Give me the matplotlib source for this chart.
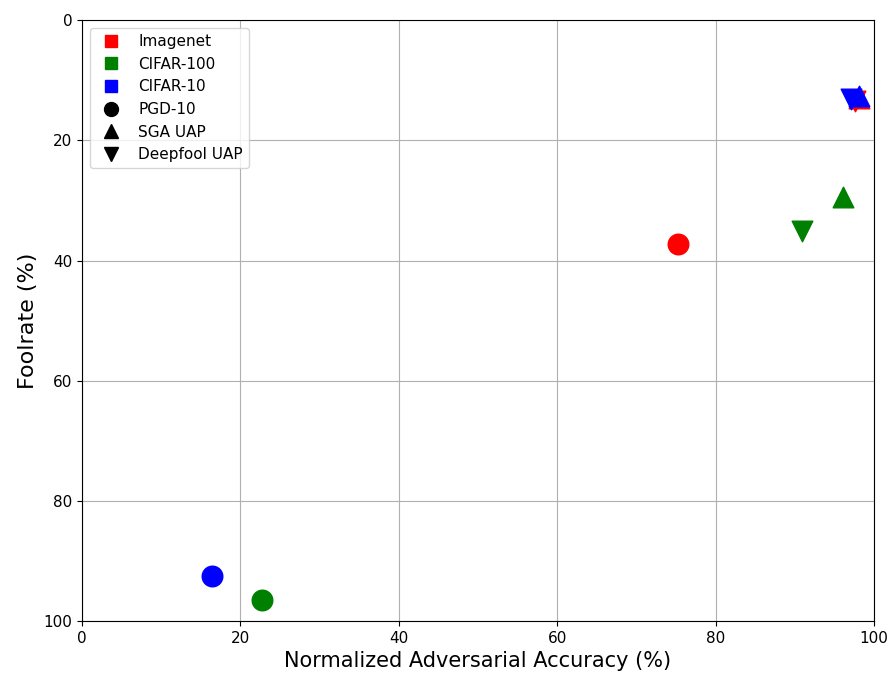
import matplotlib.pyplot as plt
from matplotlib.lines import Line2D

datasets = ['Imagenet', 'CIFAR-100', 'CIFAR-10']
colors = ['red', 'green', 'blue']
attacks = ['PGD-10', 'SGA UAP', 'Deepfool UAP']
markers = ['o', '^', 'v']

# normalized adversarial accuracy (%) per dataset, per attack
nat_acc = {
    'Imagenet': [75.2, 98.1, 97.6],
    'CIFAR-100': [22.7, 96.1, 90.9],
    'CIFAR-10': [16.4, 98.1, 97.1],
}
# foolrate (%) per dataset, per attack
foolrate = {
    'Imagenet': [37.3, 12.9, 13.5],
    'CIFAR-100': [96.5, 29.5, 35.1],
    'CIFAR-10': [92.5, 12.6, 13.1],
}

fig, ax = plt.subplots(figsize=(8.91, 6.77), dpi=100)

for ds, c in zip(datasets, colors):
    for i, m in enumerate(markers):
        ax.scatter(nat_acc[ds][i], foolrate[ds][i], c=c, marker=m, s=220, zorder=3)

ax.set_xlim(0, 100)
ax.set_ylim(100, 0)
ax.grid(True)
ax.set_axisbelow(True)
ax.tick_params(labelsize=11)
ax.set_xlabel('Normalized Adversarial Accuracy (%)', fontsize=15)
ax.set_ylabel('Foolrate (%)', fontsize=16)

handles = [Line2D([], [], marker='s', color=c, linestyle='None', markersize=9) for c in colors]
handles += [Line2D([], [], marker=m, color='black', linestyle='None', markersize=10) for m in markers]
ax.legend(handles, datasets + attacks, loc='upper left', fontsize=11)

fig.subplots_adjust(left=0.092, right=0.981, top=0.97, bottom=0.083)
fig.savefig('out.png')
